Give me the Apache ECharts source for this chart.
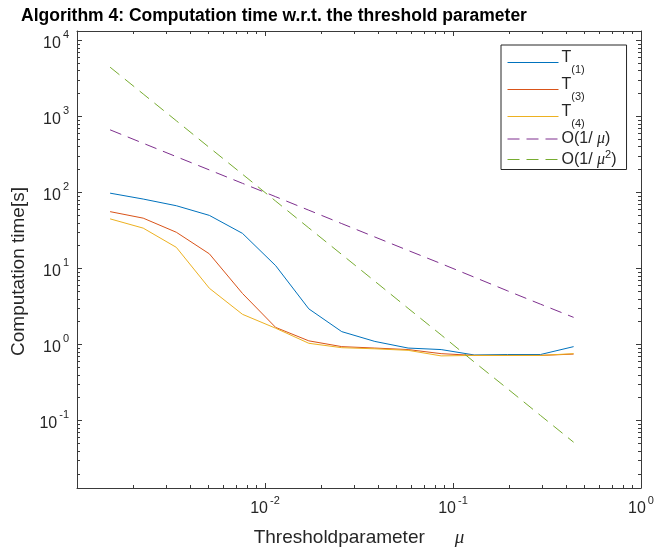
<!DOCTYPE html>
<html><head><meta charset="utf-8">
<script src="https://cdn.jsdelivr.net/npm/echarts@6/dist/echarts.min.js"></script>
<style>html,body{margin:0;padding:0;background:#fff}#c{width:655px;height:549px}</style>
</head><body><div id="c"></div>
<script>
// ---- data ----
const mu = [0.0015, 0.00225, 0.003375, 0.00506, 0.00759, 0.0114, 0.0171, 0.0256, 0.0384, 0.0577, 0.0865, 0.1297, 0.1946, 0.292, 0.438];
const T1 = [98, 82, 67, 50, 29, 10.9, 2.95, 1.48, 1.1, 0.9, 0.86, 0.73, 0.74, 0.74, 0.94];
const T3 = [56, 46, 30, 15.6, 4.7, 1.68, 1.12, 0.94, 0.9, 0.86, 0.76, 0.72, 0.72, 0.72, 0.75];
const T4 = [45, 34, 19, 5.5, 2.5, 1.64, 1.04, 0.91, 0.88, 0.84, 0.71, 0.72, 0.72, 0.72, 0.76];
const O1 = [667, 444, 296, 198, 132, 88, 58.5, 39, 26, 17.3, 11.6, 7.7, 5.1, 3.4, 2.28];
const O2 = [4444, 1975, 878, 390, 174, 77, 34.2, 15.3, 6.8, 3.0, 1.34, 0.59, 0.264, 0.117, 0.052];
const seriesNames = ['T1', 'T3', 'T4', 'O1', 'O2'];
const xTickExp = [-3, -2, -1, 0];
const xLabelExp = [-2, -1, 0];
const yTickExp = [-1, 0, 1, 2, 3, 4];
const yLabelExp = [-1, 0, 1, 2, 3, 4];
const minorMult = [2, 3, 4, 5, 6, 7, 8, 9];
const X_MIN = 0.001, X_MAX = 1, Y_MIN = 0.013, Y_MAX = 13300;

// ---- styling ----
const AX = '#3a3a3a', TXT = '#262626';
const NARROW = '"Liberation Sans Narrow", "Liberation Sans", sans-serif';
const colors = ['#0072BD', '#D95319', '#EDB120', '#7E2F8E', '#77AC30'];
const DASH = [12, 7];
const lx0 = Math.log10(X_MIN), lx1 = Math.log10(X_MAX);
const ly0 = Math.log10(Y_MIN), ly1 = Math.log10(Y_MAX);
function minors(a, b) {
  const out = [];
  for (let d = Math.floor(a) - 1; d <= Math.ceil(b); d++)
    minorMult.forEach(k => { const v = d + Math.log10(k); if (v > a && v < b) out.push(v); });
  return out;
}
const xMin = minors(lx0, lx1), yMin = minors(ly0, ly1);
const expFmt = v => '{b|10}{s|' + Math.round(v) + '}';
const labRich = {
  b: { fontSize: 16, color: TXT, lineHeight: 22, verticalAlign: 'bottom', fontFamily: NARROW },
  s: { fontSize: 11, color: TXT, lineHeight: 22, verticalAlign: 'top', fontFamily: NARROW, padding: [0, 0, 0, 2] }
};
function decoAxis(pos, min, max, ticks, len, line, labels, extra) {
  return Object.assign({
    type: 'value', position: pos, min: min, max: max, gridIndex: 0,
    axisLine: { show: line, onZero: false, lineStyle: { color: AX, width: 1 } },
    axisTick: { show: true, inside: true, length: len, customValues: ticks, lineStyle: { color: AX, width: 1 } },
    axisLabel: labels ? { show: true, customValues: labels, formatter: expFmt, rich: labRich, margin: pos === 'left' ? 8 : 7 } : { show: false },
    splitLine: { show: false }, minorTick: { show: false }
  }, extra || {});
}

const chart = echarts.init(document.getElementById('c'), null, { renderer: 'canvas' });
chart.setOption({
  animation: false,
  backgroundColor: '#fff',
  title: {
    text: 'Algorithm 4: Computation time w.r.t. the threshold parameter',
    left: 16, top: 2,
    textStyle: { fontSize: 17.5, fontWeight: 'bold', color: '#000', fontFamily: 'Liberation Sans' }
  },
  grid: { left: 77, top: 31, right: 14, bottom: 61, containLabel: false, outerBoundsMode: 'none' },
  xAxis: [
    { type: 'log', logBase: 10, min: X_MIN, max: X_MAX, show: false, gridIndex: 0 },
    decoAxis('bottom', lx0, lx1, xTickExp, 5, true, xLabelExp, {
      name: '{a|Thresholdparameter}{m|μ}', nameLocation: 'middle', nameGap: 40,
      nameTextStyle: { rich: {
        a: { fontSize: 19, color: TXT, fontFamily: 'Liberation Sans' },
        m: { fontSize: 19, color: TXT, fontStyle: 'italic', fontFamily: 'Liberation Serif', padding: [0, 0, 0, 30] }
      } }
    }),
    decoAxis('bottom', lx0, lx1, xMin, 3, false, null),
    decoAxis('top', lx0, lx1, xTickExp, 5, true, null),
    decoAxis('top', lx0, lx1, xMin, 3, false, null)
  ],
  yAxis: [
    { type: 'log', logBase: 10, min: Y_MIN, max: Y_MAX, show: false, gridIndex: 0 },
    decoAxis('left', ly0, ly1, yTickExp, 5, true, yLabelExp, {
      name: 'Computation time[s]', nameLocation: 'middle', nameGap: 45, nameRotate: 90,
      nameTextStyle: { fontSize: 19, color: TXT, fontFamily: 'Liberation Sans', padding: [0, 24, 0, 0] }
    }),
    decoAxis('left', ly0, ly1, yMin, 3, false, null),
    decoAxis('right', ly0, ly1, yTickExp, 5, true, null),
    decoAxis('right', ly0, ly1, yMin, 3, false, null)
  ],
  legend: {
    orient: 'vertical', left: 501, top: 45,
    data: seriesNames.map((n, i) => ({
      name: n,
      lineStyle: { color: colors[i], width: 1, opacity: 1, type: i >= 3 ? DASH : 'solid' },
      itemStyle: { color: 'rgba(0,0,0,0)', borderColor: 'rgba(0,0,0,0)', borderWidth: 0 }
    })),
    itemWidth: 51, itemHeight: 11, itemGap: 2,
    padding: [5, 10, 2, 6],
    borderColor: '#262626', borderWidth: 1, borderRadius: 0,
    backgroundColor: '#fff',
    itemStyle: { color: 'rgba(0,0,0,0)', borderColor: 'rgba(0,0,0,0)', borderWidth: 0 },
    lineStyle: { width: 1, opacity: 1 },
    formatter: function (n) {
      if (n === 'T1') return '{t|T}{sub|(1)}';
      if (n === 'T3') return '{t|T}{sub|(3)}';
      if (n === 'T4') return '{t|T}{sub|(4)}';
      if (n === 'O1') return '{o|O(1/ }{m|μ}{o|)}';
      return '{o|O(1/ }{m|μ}{sup|2}{o|)}';
    },
    textStyle: {
      color: TXT, padding: [0, 0, 0, -2],
      rich: {
        t: { fontSize: 16, lineHeight: 25, verticalAlign: 'top', color: TXT, fontFamily: 'Liberation Sans' },
        sub: { fontSize: 11, lineHeight: 25, verticalAlign: 'bottom', color: TXT, fontFamily: 'Liberation Sans' },
        o: { fontSize: 16, lineHeight: 21, color: TXT, fontFamily: 'Liberation Sans' },
        m: { fontSize: 16, lineHeight: 21, color: TXT, fontStyle: 'italic', fontFamily: 'Liberation Serif' },
        sup: { fontSize: 11, lineHeight: 21, verticalAlign: 'top', color: TXT, fontFamily: 'Liberation Sans' }
      }
    }
  },
  series: [T1, T3, T4, O1, O2].map((arr, i) => ({
    name: seriesNames[i], type: 'line', xAxisIndex: 0, yAxisIndex: 0,
    data: mu.map((m, j) => [m, arr[j]]),
    symbol: 'none', showSymbol: false, silent: true,
    color: colors[i],
    lineStyle: { color: colors[i], width: 1, type: i >= 3 ? DASH : 'solid' }
  }))
});
</script></body></html>
